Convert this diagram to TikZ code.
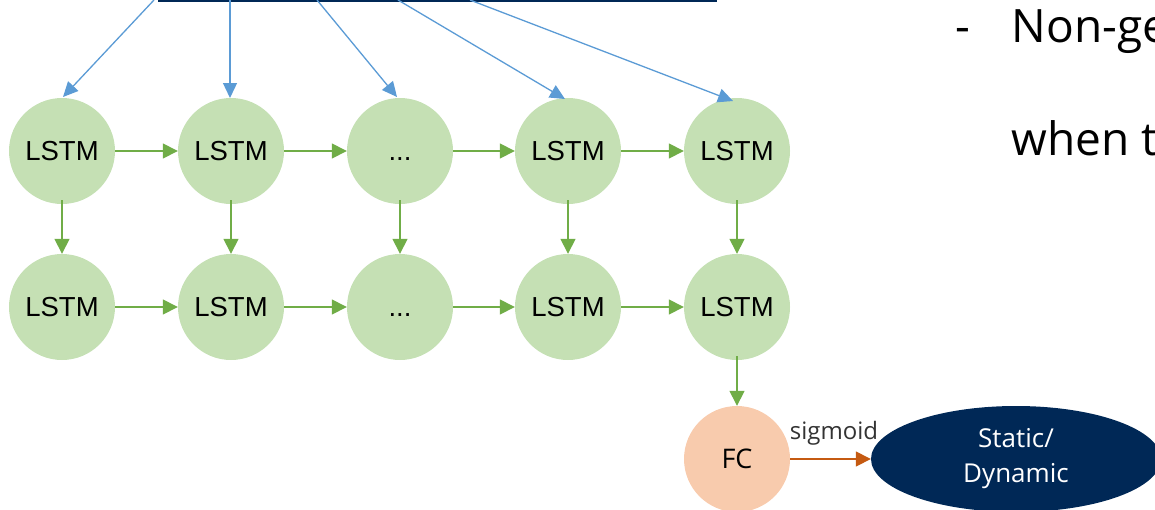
\documentclass[tikz,border=0pt]{standalone}
\usepackage{fontspec}
\setmainfont{Open Sans}
\newfontfamily\arialf{Liberation Sans}
\usetikzlibrary{arrows.meta,shapes.geometric}
\definecolor{lgreen}{HTML}{C5E0B4}
\definecolor{dgreen}{HTML}{70AD47}
\definecolor{lblue}{HTML}{5B9BD5}
\definecolor{peach}{HTML}{F8CBAD}
\definecolor{orng}{HTML}{C55A11}
\definecolor{navy}{HTML}{002856}
\newcommand\mydots{\vphantom{LSTM}...}
\tikzset{
  lstm/.style={circle,fill=lgreen,minimum size=106pt,inner sep=0pt,font=\arialf\fontsize{27.5}{30}\selectfont},
  garr/.style={draw=dgreen,line width=1.5pt,-{Triangle[length=15pt,width=15pt]}},
  barr/.style={draw=lblue,line width=1.3pt,-{Triangle[length=15pt,width=14pt]}},
  oarr/.style={draw=orng,line width=1.5pt,-{Triangle[length=15pt,width=15pt]}},
}
\begin{document}
\begin{tikzpicture}[x=1pt,y=-1pt]
\useasboundingbox (0,0) rectangle (1155,509);
\clip (0,0) rectangle (1155,509);
% top bar
\draw[navy,line width=3pt] (158,0.5) coordinate (b0) -- (717,0.5) coordinate (b1);
\coordinate (s1) at (154,0);
\coordinate (s2) at (230,0);
\coordinate (s3) at (317,0);
\coordinate (s4) at (398,0);
\coordinate (s5) at (470,0);
% nodes
\foreach \n/\x/\t in {1/62/LSTM,2/231/LSTM,3/400/\mydots,4/568/LSTM,5/737/LSTM}{
  \node[lstm] (t\n) at (\x,151) {\t};
  \node[lstm] (u\n) at (\x,307) {\t};
}
\node[circle,fill=peach,minimum size=106pt,inner sep=0pt,font=\fontsize{27}{30}\selectfont] (fc) at (737,459) {FC};
\node[ellipse,fill=navy,minimum width=290pt,minimum height=106pt,inner sep=0pt,text=white,align=center,font=\fontsize{26}{35}\selectfont] (sd) at (1016,459) {Static/\\Dynamic};
% blue arrows
\coordinate (e1) at (63,97);
\coordinate (e2) at (230,98);
\coordinate (e3) at (397,97);
\coordinate (e4) at (565,99);
\coordinate (e5) at (733,101);
\foreach \i in {1,...,5}{\draw[barr] (s\i) -- (e\i);}
% horizontal arrows
\foreach \a/\b in {1/2,2/3,3/4,4/5}{
  \draw[garr] (t\a.east) -- (t\b.west);
  \draw[garr] (u\a.east) -- (u\b.west);
}
% vertical arrows
\foreach \i in {1,...,5}{
  \draw[garr] ([yshift=4pt]t\i.south) -- (u\i.north);
}
\draw[garr] ([yshift=4pt]u5.south) -- (fc.north);
\draw[oarr] (fc.east) -- (sd.west);
\node[font=\fontsize{24}{26}\selectfont,text=black!80] (sg) at (834,433) {sigmoid};
% right text
\node[anchor=base west,font=\fontsize{46}{50}\selectfont] (dash) at (952,42) {-};
\node[anchor=base west,font=\fontsize{46}{50}\selectfont] (l1) at (1008,42) {Non-ge};
\node[anchor=base west,font=\fontsize{46}{50}\selectfont] (l2) at (1008,155) {when t};
\end{tikzpicture}
\end{document}
